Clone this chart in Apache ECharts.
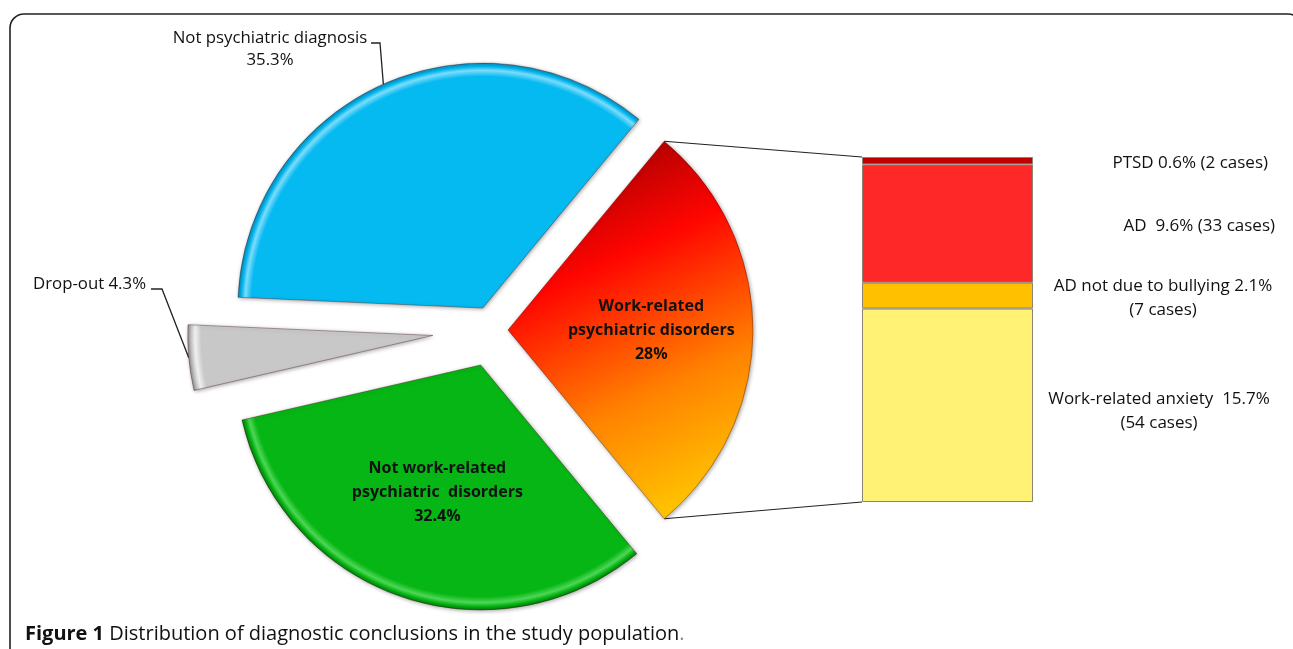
<!DOCTYPE html>
<html><head><meta charset="utf-8">
<script src="https://cdn.jsdelivr.net/npm/echarts@6/dist/echarts.min.js"></script>
<style>html,body{margin:0;padding:0;background:#fff}#c{width:1293px;height:649px}</style>
</head><body><div id="c"></div>
<script>
// ---------------- data ----------------
const pieNames = ['Work-related psychiatric disorders', 'Not work-related psychiatric disorders', 'Drop-out', 'Not psychiatric diagnosis'];
const pieValues = [28, 32.4, 4.3, 35.3];
const pieLabels = ['Work-related\npsychiatric disorders\n28%', 'Not work-related\npsychiatric  disorders\n32.4%', 'Drop-out 4.3%', 'Not psychiatric diagnosis\n35.3%'];
const barNames = ['Work-related anxiety', 'AD not due to bullying', 'AD', 'PTSD'];
const barValues = [15.7, 2.1, 9.6, 0.6];
const barCases = [54, 7, 33, 2];
const barLabels = ['Work-related anxiety  15.7%\n(54 cases)', 'AD not due to bullying 2.1%\n(7 cases)', 'AD  9.6% (33 cases)', 'PTSD 0.6% (2 cases)'];

// ---------------- layout / style ----------------
const C = [492.5, 330], R = 245;
const explode = [15.5, 37, 60, 24];
const FONT = 'Open Sans';
const chart = echarts.init(document.getElementById('c'));
const rad = d => d * Math.PI / 180;
const total = pieValues.reduce((a, b) => a + b, 0);
const startAngle = pieValues[0] / total * 180;
const slices = []; let cum = 0;
pieValues.forEach(v => { const a0 = startAngle - cum / total * 360; const a1 = a0 - v / total * 360; cum += v; slices.push({ a0, a1, mid: (a0 + a1) / 2 }); });
const centers = slices.map((s, i) => [C[0] + explode[i] * Math.cos(rad(s.mid)), C[1] - explode[i] * Math.sin(rad(s.mid))]);
const pt = (c, r, a) => [c[0] + r * Math.cos(rad(a)), c[1] - r * Math.sin(rad(a))];

function bevel(c, base, light, dark) {
  return { type: 'radial', x: c[0], y: c[1], r: R, global: true,
    colorStops: [{ offset: 0, color: base }, { offset: 0.945, color: base }, { offset: 0.97, color: light }, { offset: 0.985, color: base }, { offset: 1, color: dark }] };
}
const fills = [
  c => ({ type: 'linear', x: 560, y: 180, x2: 720, y2: 520, global: true,
    colorStops: [{ offset: 0, color: '#B00000' }, { offset: 0.25, color: '#FF0500' }, { offset: 0.62, color: '#FF8200' }, { offset: 1, color: '#FFD400' }] }),
  c => bevel(c, '#05B614', '#4FD656', '#027A0A'),
  c => bevel(c, '#C8C8C8', '#F0F0F0', '#8E8E8E'),
  c => bevel(c, '#05B9F1', '#7CDCFB', '#0388B8')
];
// label placement per slice
const labelCfg = [
  { inside: true, k: 0.585 },
  { inside: true, k: 0.55 },
  { inside: false, x: 146, y: 284, align: 'right', line: [[162, 289], [151, 289]] },
  { inside: false, x: 270, y: 49, align: 'center', line: [[380, 43], [371, 43]] }
];

const series = [];
pieValues.forEach((v, i) => {
  const cfg = labelCfg[i];
  series.push({
    type: 'pie', silent: true, center: centers[i], radius: R, startAngle, clockwise: true,
    avoidLabelOverlap: false, animation: false,
    data: pieValues.map((vv, j) => j === i ? {
      name: pieNames[j], value: vv,
      itemStyle: { color: fills[j](centers[i]), borderColor: 'rgba(60,0,0,0.35)', borderWidth: 1,
        shadowBlur: 4, shadowColor: 'rgba(0,0,0,0.35)', shadowOffsetX: 1, shadowOffsetY: 1 },
      label: { show: true, formatter: pieLabels[j], position: cfg.inside ? 'inside' : 'outside',
        fontFamily: FONT, fontSize: cfg.inside ? 16 : 16.8, fontWeight: cfg.inside ? 'bold' : 'normal', color: '#111',
        lineHeight: cfg.inside ? 24 : 22, align: 'center' },
      labelLine: { show: !cfg.inside, lineStyle: { color: '#222', width: 1.3 } }
    } : {
      name: pieNames[j], value: vv,
      itemStyle: { color: 'rgba(0,0,0,0)', borderWidth: 0 },
      label: { show: false }, labelLine: { show: false }
    }),
    labelLayout: function () {
      if (cfg.inside) {
        const p = pt(centers[i], cfg.k * R, slices[i].mid);
        return { x: p[0], y: p[1], align: 'center', verticalAlign: 'middle' };
      }
      const arc = pt(centers[i], R, slices[i].mid);
      return { x: cfg.x, y: cfg.y, align: cfg.align, verticalAlign: 'middle', labelLinePoints: [arc, cfg.line[0], cfg.line[1]] };
    }
  });
});

const barColors = ['#FFF275', '#FFC000', '#FF2828', '#C00000'];
const barLabelPos = [
  { x: 297, align: 'center', dy: 6 },
  { x: 301, align: 'center', dy: 3 },
  { x: 413, align: 'right', dy: 3 },
  { x: 406, align: 'right', dy: 2 }
];
const barTotal = barValues.reduce((a, b) => a + b, 0);
barValues.forEach((v, k) => {
  series.push({
    type: 'bar', stack: 'wr', name: barNames[k], data: [v], barWidth: '100%', silent: true, animation: false,
    itemStyle: { color: barColors[k], borderColor: '#8A8470', borderWidth: 1 },
    label: { show: true, formatter: barLabels[k], position: [barLabelPos[k].x, '50%'], offset: [0, barLabelPos[k].dy],
      align: barLabelPos[k].align, verticalAlign: 'middle', fontFamily: FONT, fontSize: 17, color: '#111', lineHeight: 24 }
  });
});

const grid = { left: 862, top: 157, width: 171, bottom: 147 };
chart.setOption({
  animation: false,
  grid,
  xAxis: { type: 'category', data: ['Work-related psychiatric disorders'], show: false },
  yAxis: { type: 'value', min: 0, max: barTotal, show: false, splitLine: { show: false } },
  series
});

// connector lines from the exploded slice to the bar
const redTop = pt(centers[0], R, slices[0].a0);
const redBot = pt(centers[0], R, slices[0].a1);
const yTop = chart.convertToPixel({ yAxisIndex: 0 }, barTotal);
const yBot = chart.convertToPixel({ yAxisIndex: 0 }, 0);
chart.setOption({
  graphic: [
    { type: 'rect', silent: true, z: 100, shape: { x: 10, y: 14, width: 1292, height: 720, r: 14 }, style: { fill: 'transparent', stroke: '#222', lineWidth: 1.6 } },
    { type: 'line', silent: true, z: 0, shape: { x1: redTop[0], y1: redTop[1], x2: grid.left, y2: yTop }, style: { stroke: '#222', lineWidth: 1.2 } },
    { type: 'line', silent: true, z: 0, shape: { x1: redBot[0], y1: redBot[1], x2: grid.left, y2: yBot }, style: { stroke: '#222', lineWidth: 1.2 } },
    { type: 'text', silent: true, x: 25, y: 634, style: {
        text: '{b|Figure 1} {n|Distribution of diagnostic conclusions in the study population}{p|.}',
        verticalAlign: 'middle', fontFamily: FONT, fontSize: 20, fill: '#111',
        rich: { b: { fontFamily: FONT, fontSize: 20, fontWeight: 'bold', fill: '#111' },
                n: { fontFamily: FONT, fontSize: 20, fontWeight: 500, fill: '#111' },
                p: { fontFamily: FONT, fontSize: 20, fill: '#888' } } } }
  ]
});
</script></body></html>
